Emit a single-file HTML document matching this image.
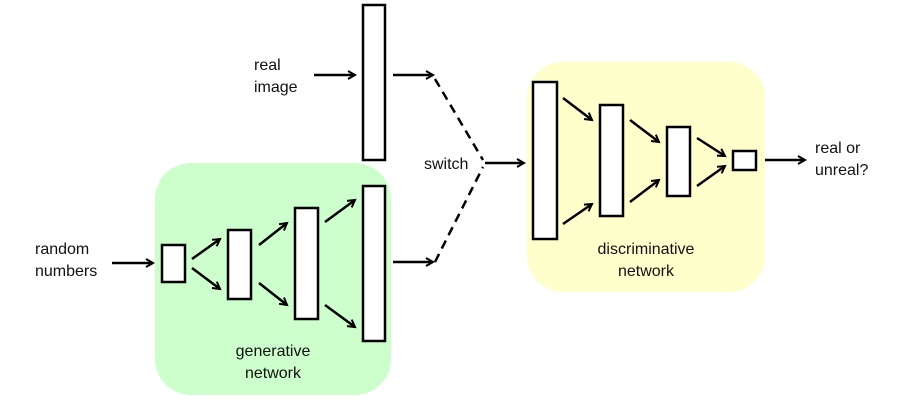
<!DOCTYPE html>
<html><head><style>
body{margin:0;background:#fff;}
svg text{font-family:"Liberation Sans",Arial,sans-serif;font-size:16px;fill:#111;}
</style></head><body>
<svg width="901" height="403" viewBox="0 0 901 403" xmlns="http://www.w3.org/2000/svg">
<defs>
<marker id="a" markerWidth="10" markerHeight="10" refX="8" refY="5" orient="auto" markerUnits="userSpaceOnUse">
<path d="M1,1 L8,5 L1,9" fill="none" stroke="#000" stroke-width="2"/>
</marker>
</defs>
<rect x="155" y="163" width="236" height="232" rx="36" fill="#ccffcc"/>
<rect x="527" y="62" width="238" height="230" rx="36" fill="#ffffcc"/>
<g fill="#fff" stroke="#000" stroke-width="2.5">
<rect x="363" y="5" width="22" height="155"/>
<rect x="363" y="186" width="22" height="155"/>
<rect x="295" y="208" width="23" height="111"/>
<rect x="228" y="230" width="23" height="69"/>
<rect x="162" y="245" width="23" height="37"/>
<rect x="533" y="82" width="24" height="157"/>
<rect x="600" y="105" width="23" height="111"/>
<rect x="667" y="127" width="23" height="69"/>
<rect x="733" y="151" width="23" height="19"/>
</g>
<g stroke="#000" stroke-width="2.5" fill="none" marker-end="url(#a)">
<line x1="314" y1="75" x2="355" y2="75"/>
<line x1="393" y1="75" x2="433" y2="75"/>
<line x1="393" y1="262" x2="433" y2="262"/>
<line x1="112" y1="263" x2="153" y2="263"/>
<line x1="485" y1="163" x2="524" y2="163"/>
<line x1="192" y1="259" x2="220" y2="239"/>
<line x1="192" y1="268" x2="220" y2="289"/>
<line x1="259" y1="245" x2="287" y2="223"/>
<line x1="259" y1="283" x2="287" y2="305"/>
<line x1="325" y1="222" x2="355" y2="200"/>
<line x1="325" y1="305" x2="355" y2="327"/>
<line x1="563" y1="98" x2="592" y2="120"/>
<line x1="563" y1="224" x2="592" y2="204"/>
<line x1="630" y1="120" x2="659" y2="142"/>
<line x1="630" y1="202" x2="659" y2="180"/>
<line x1="697" y1="138" x2="725" y2="156"/>
<line x1="697" y1="186" x2="725" y2="166"/>
<line x1="765" y1="160" x2="805" y2="160"/>
</g>
<g stroke="#000" stroke-width="2.5" fill="none" stroke-dasharray="9,6">
<path d="M435,79 L483,160"/>
<path d="M435,262 L483,167"/>
</g>
<text x="254" y="70">real</text>
<text x="254" y="92">image</text>
<text x="424" y="169">switch</text>
<text x="35" y="254">random</text>
<text x="35" y="276">numbers</text>
<text x="273" y="356" text-anchor="middle">generative</text>
<text x="273" y="378" text-anchor="middle">network</text>
<text x="646" y="254" text-anchor="middle">discriminative</text>
<text x="646" y="276" text-anchor="middle">network</text>
<text x="815" y="153">real or</text>
<text x="815" y="175">unreal?</text>
</svg>
</body></html>
